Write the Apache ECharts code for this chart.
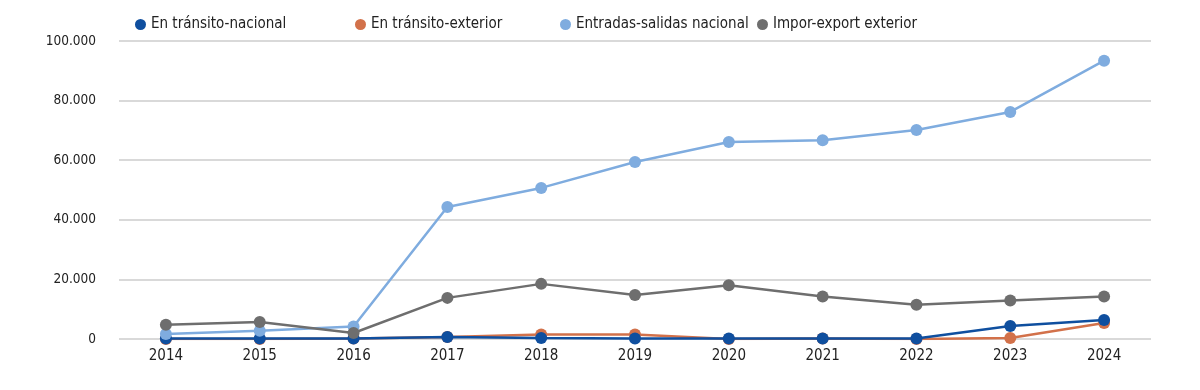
<!DOCTYPE html>
<html><head><meta charset="utf-8">
<script src="https://cdn.jsdelivr.net/npm/echarts@6/dist/echarts.min.js"></script>
<style>html,body{margin:0;padding:0;background:#fff}#c{width:1200px;height:390px}</style>
</head><body><div id="c"></div>
<script>
const categories = ['2014','2015','2016','2017','2018','2019','2020','2021','2022','2023','2024'];
const enTransitoNacional = [200, 200, 200, 700, 300, 200, 200, 200, 200, 4400, 6400];
const enTransitoExterior = [0, 0, 200, 700, 1500, 1500, 0, 200, 0, 300, 5400];
const entradasSalidasNacional = [1700, 2800, 4200, 44300, 50700, 59400, 66100, 66700, 70100, 76200, 93400];
const imporExportExterior = [4800, 5700, 2000, 13800, 18500, 14800, 18000, 14300, 11500, 12900, 14300];
const yTicks = [0, 20000, 40000, 60000, 80000, 100000];

const FONT = "'Liberation Sans Narrow', 'DejaVu Sans Condensed', sans-serif";
const names = ['En tránsito-nacional','En tránsito-exterior','Entradas-salidas nacional','Impor-export exterior'];
const colors = ['#0F4F9F','#D2714A','#7FACDF','#6E6E6E'];
const legendLeft = [130, 350, 555, 752];

function fmt(v){ return v.toLocaleString('de-DE'); }

const chart = echarts.init(document.getElementById('c'), null, {renderer:'canvas'});
function mk(i, data, z){
  return {name:names[i], type:'line', data:data, z:z, symbol:'circle', symbolSize:12,
    lineStyle:{color:colors[i], width:2.5}, itemStyle:{color:colors[i]}, animation:false};
}
chart.setOption({
  animation:false,
  textStyle:{fontFamily:FONT},
  legend: names.map((n,i)=>({data:[n], left:legendLeft[i], top:12, icon:'circle', itemWidth:11, itemHeight:11, itemGap:6,
    textStyle:{fontFamily:FONT, fontSize:15, color:'#222'}})),
  grid:{left:119, right:49, top:41, bottom:51},
  xAxis:{type:'category', data:categories, boundaryGap:true,
    axisLine:{show:false}, axisTick:{show:false},
    axisLabel:{fontFamily:FONT, fontSize:15, color:'#222', margin:10}},
  yAxis:{type:'value', min:0, max:100000, interval:20000,
    axisLine:{show:false}, axisTick:{show:false},
    axisLabel:{fontFamily:FONT, fontSize:13.5, color:'#222', margin:23, formatter:v=>yTicks.includes(v)?fmt(v):''},
    splitLine:{lineStyle:{color:'#d9d9d9', width:2}}},
  series:[
    mk(1, enTransitoExterior, 2),
    mk(0, enTransitoNacional, 3),
    mk(2, entradasSalidasNacional, 4),
    mk(3, imporExportExterior, 5)
  ]
});
</script></body></html>
